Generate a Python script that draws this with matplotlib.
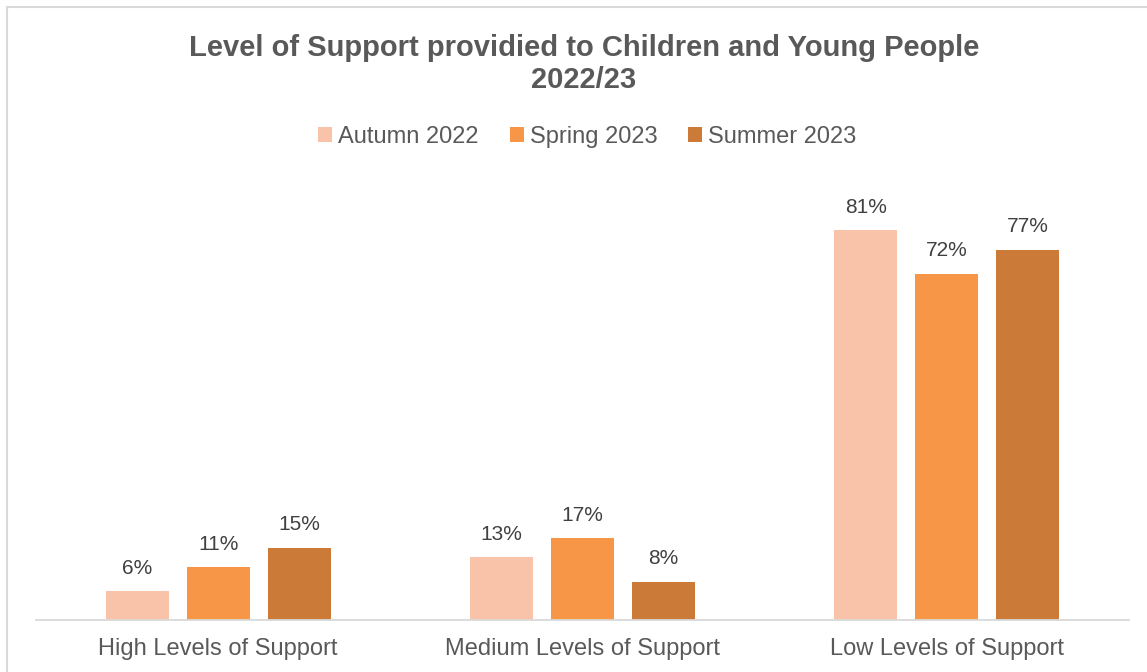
import matplotlib.pyplot as plt
import matplotlib.patches as patches
import numpy as np

categories = ['High Levels of Support', 'Medium Levels of Support', 'Low Levels of Support']
series = ['Autumn 2022', 'Spring 2023', 'Summer 2023']
autumn_2022 = [6, 13, 81]
spring_2023 = [11, 17, 72]
summer_2023 = [15, 8, 77]
colors = ['#F8C3A8', '#F79646', '#CC7A38']

plt.rcParams['font.family'] = ['Liberation Sans', 'DejaVu Sans']

W, H = 1147, 672
fig = plt.figure(figsize=(W / 100, H / 100), dpi=100)
ax = fig.add_axes([36 / W, 52 / H, (1129 - 36) / W, (620 - 187) / H])

# chart frame
fig.patches.append(patches.Rectangle((7 / W, -0.05), 1.2, (H - 7) / H + 0.05,
                                     transform=fig.transFigure, fill=False,
                                     edgecolor='#D9D9D9', linewidth=1.5))

x = np.arange(len(categories))
width = 0.173
step = width + 0.049
for i, (vals, name) in enumerate(zip([autumn_2022, spring_2023, summer_2023], series)):
    pos = x + (i - 1) * step
    bars = ax.bar(pos, vals, width, color=colors[i], label=name)
    for b, v in zip(bars, vals):
        ax.text(b.get_x() + b.get_width() / 2, v + 2.8, f'{v}%',
                ha='center', va='bottom', fontsize=15, color='#404040')

ax.set_xlim(-0.5, 2.5)
ax.set_ylim(0, 90)
ax.set_yticks([])
for s in ['top', 'right', 'left']:
    ax.spines[s].set_visible(False)
ax.spines['bottom'].set_color('#D9D9D9')
ax.spines['bottom'].set_linewidth(1.3)
ax.set_xticks(x)
ax.set_xticklabels(categories, fontsize=17, color='#595959')
ax.tick_params(axis='x', length=0, pad=13)

fig.text(0.509, 1 - 64 / H, 'Level of Support providied to Children and Young People\n2022/23',
         ha='center', va='center', fontsize=21, fontweight='bold', color='#595959',
         linespacing=1.2)

fig.legend(loc='center', bbox_to_anchor=(0.512, 1 - 137 / H), ncol=3, frameon=False,
           fontsize=17, labelcolor='#595959', handlelength=0.6, handleheight=0.6,
           handletextpad=0.25, columnspacing=1.3)

fig.savefig('out.png', dpi=100)
